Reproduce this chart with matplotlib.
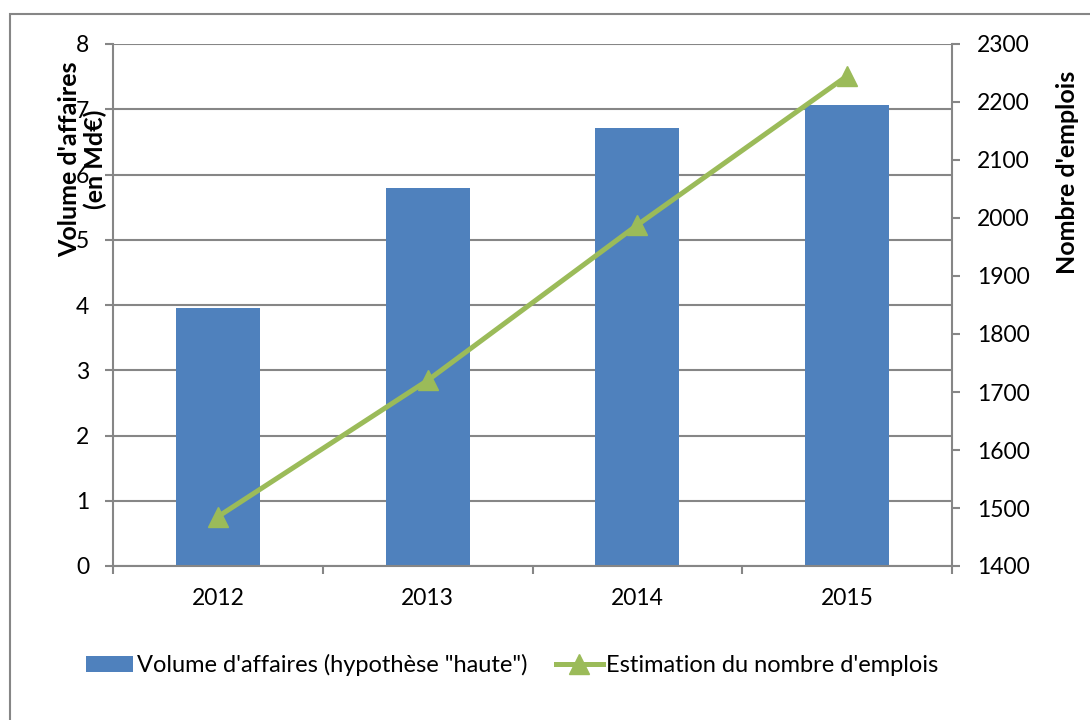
import matplotlib
matplotlib.use("Agg")
import matplotlib.pyplot as plt
from matplotlib.patches import Rectangle

# Data
years = ["2012", "2013", "2014", "2015"]
volume = [3.95, 5.80, 6.71, 7.06]          # Md€
emplois = [1485, 1720, 1988, 2245]          # nombre d'emplois

bar_color = "#4F81BD"
line_color = "#9BBB59"
grid_color = "#868686"

plt.rcParams["font.family"] = ["Lato", "DejaVu Sans"]

fig = plt.figure(figsize=(10.9, 7.2), dpi=100)
ax = fig.add_axes([113 / 1090, 1 - 566 / 720, (952 - 113) / 1090, (566 - 44) / 720])

# outer chart border (only top and left visible in the frame)
fig.patches.append(Rectangle((10 / 1090, -0.1), 1.2, 1 - 14 / 720 + 0.1,
                             transform=fig.transFigure, fill=False,
                             edgecolor=grid_color, linewidth=1.5))

x = range(len(years))
ax.bar(x, volume, width=0.4, color=bar_color, zorder=2,
       label="Volume d'affaires (hypothèse \"haute\")")
ax.set_xlim(-0.5, 3.5)
ax.set_ylim(0, 8)
ax.set_yticks(range(0, 9))
ax.set_xticks(x)
ax.set_xticklabels(years)
ax.grid(axis="y", color=grid_color, linewidth=1.5, zorder=0)
ax.set_axisbelow(True)

# x ticks between categories
ax.set_xticks([-0.5, 0.5, 1.5, 2.5, 3.5], minor=True)
ax.tick_params(axis="x", which="major", length=0, pad=16, labelsize=16.5)
ax.tick_params(axis="x", which="minor", length=6, width=1.5, color=grid_color, direction="out")
ax.tick_params(axis="y", length=6, width=1.5, color=grid_color, labelsize=16.5, pad=11)

for s in ["top", "right"]:
    ax.spines[s].set_visible(False)
for s in ["left", "bottom"]:
    ax.spines[s].set_color(grid_color)
    ax.spines[s].set_linewidth(1.5)

# label sits over the tick labels, as in the original
ax.set_ylabel("Volume d'affaires\n(en Md€)", fontsize=18, fontweight="bold", linespacing=1.15)
ax.yaxis.set_label_coords(-0.007, 0.78)

ax2 = ax.twinx()
ax2.plot(x, emplois, color=line_color, linewidth=3.6, marker="^", markersize=15,
         label="Estimation du nombre d'emplois", zorder=3)
ax2.set_ylim(1400, 2300)
ax2.set_yticks(range(1400, 2301, 100))
ax2.tick_params(axis="y", length=6, width=1.5, color=grid_color, labelsize=16.5, pad=12)
for s in ["top", "left", "bottom"]:
    ax2.spines[s].set_visible(False)
ax2.spines["right"].set_color(grid_color)
ax2.spines["right"].set_linewidth(1.5)
ax2.set_ylabel("Nombre d'emplois", fontsize=18, fontweight="bold")
ax2.yaxis.set_label_coords(1.124, 0.755)

h1, l1 = ax.get_legend_handles_labels()
h2, l2 = ax2.get_legend_handles_labels()
fig.legend(h1 + h2, l1 + l2, loc="center", bbox_to_anchor=(0.47, 1 - 665 / 720),
           ncol=2, frameon=False, fontsize=17, handlelength=2.0,
           handletextpad=0.15, columnspacing=1.2)

fig.savefig("out.png", dpi=100)
